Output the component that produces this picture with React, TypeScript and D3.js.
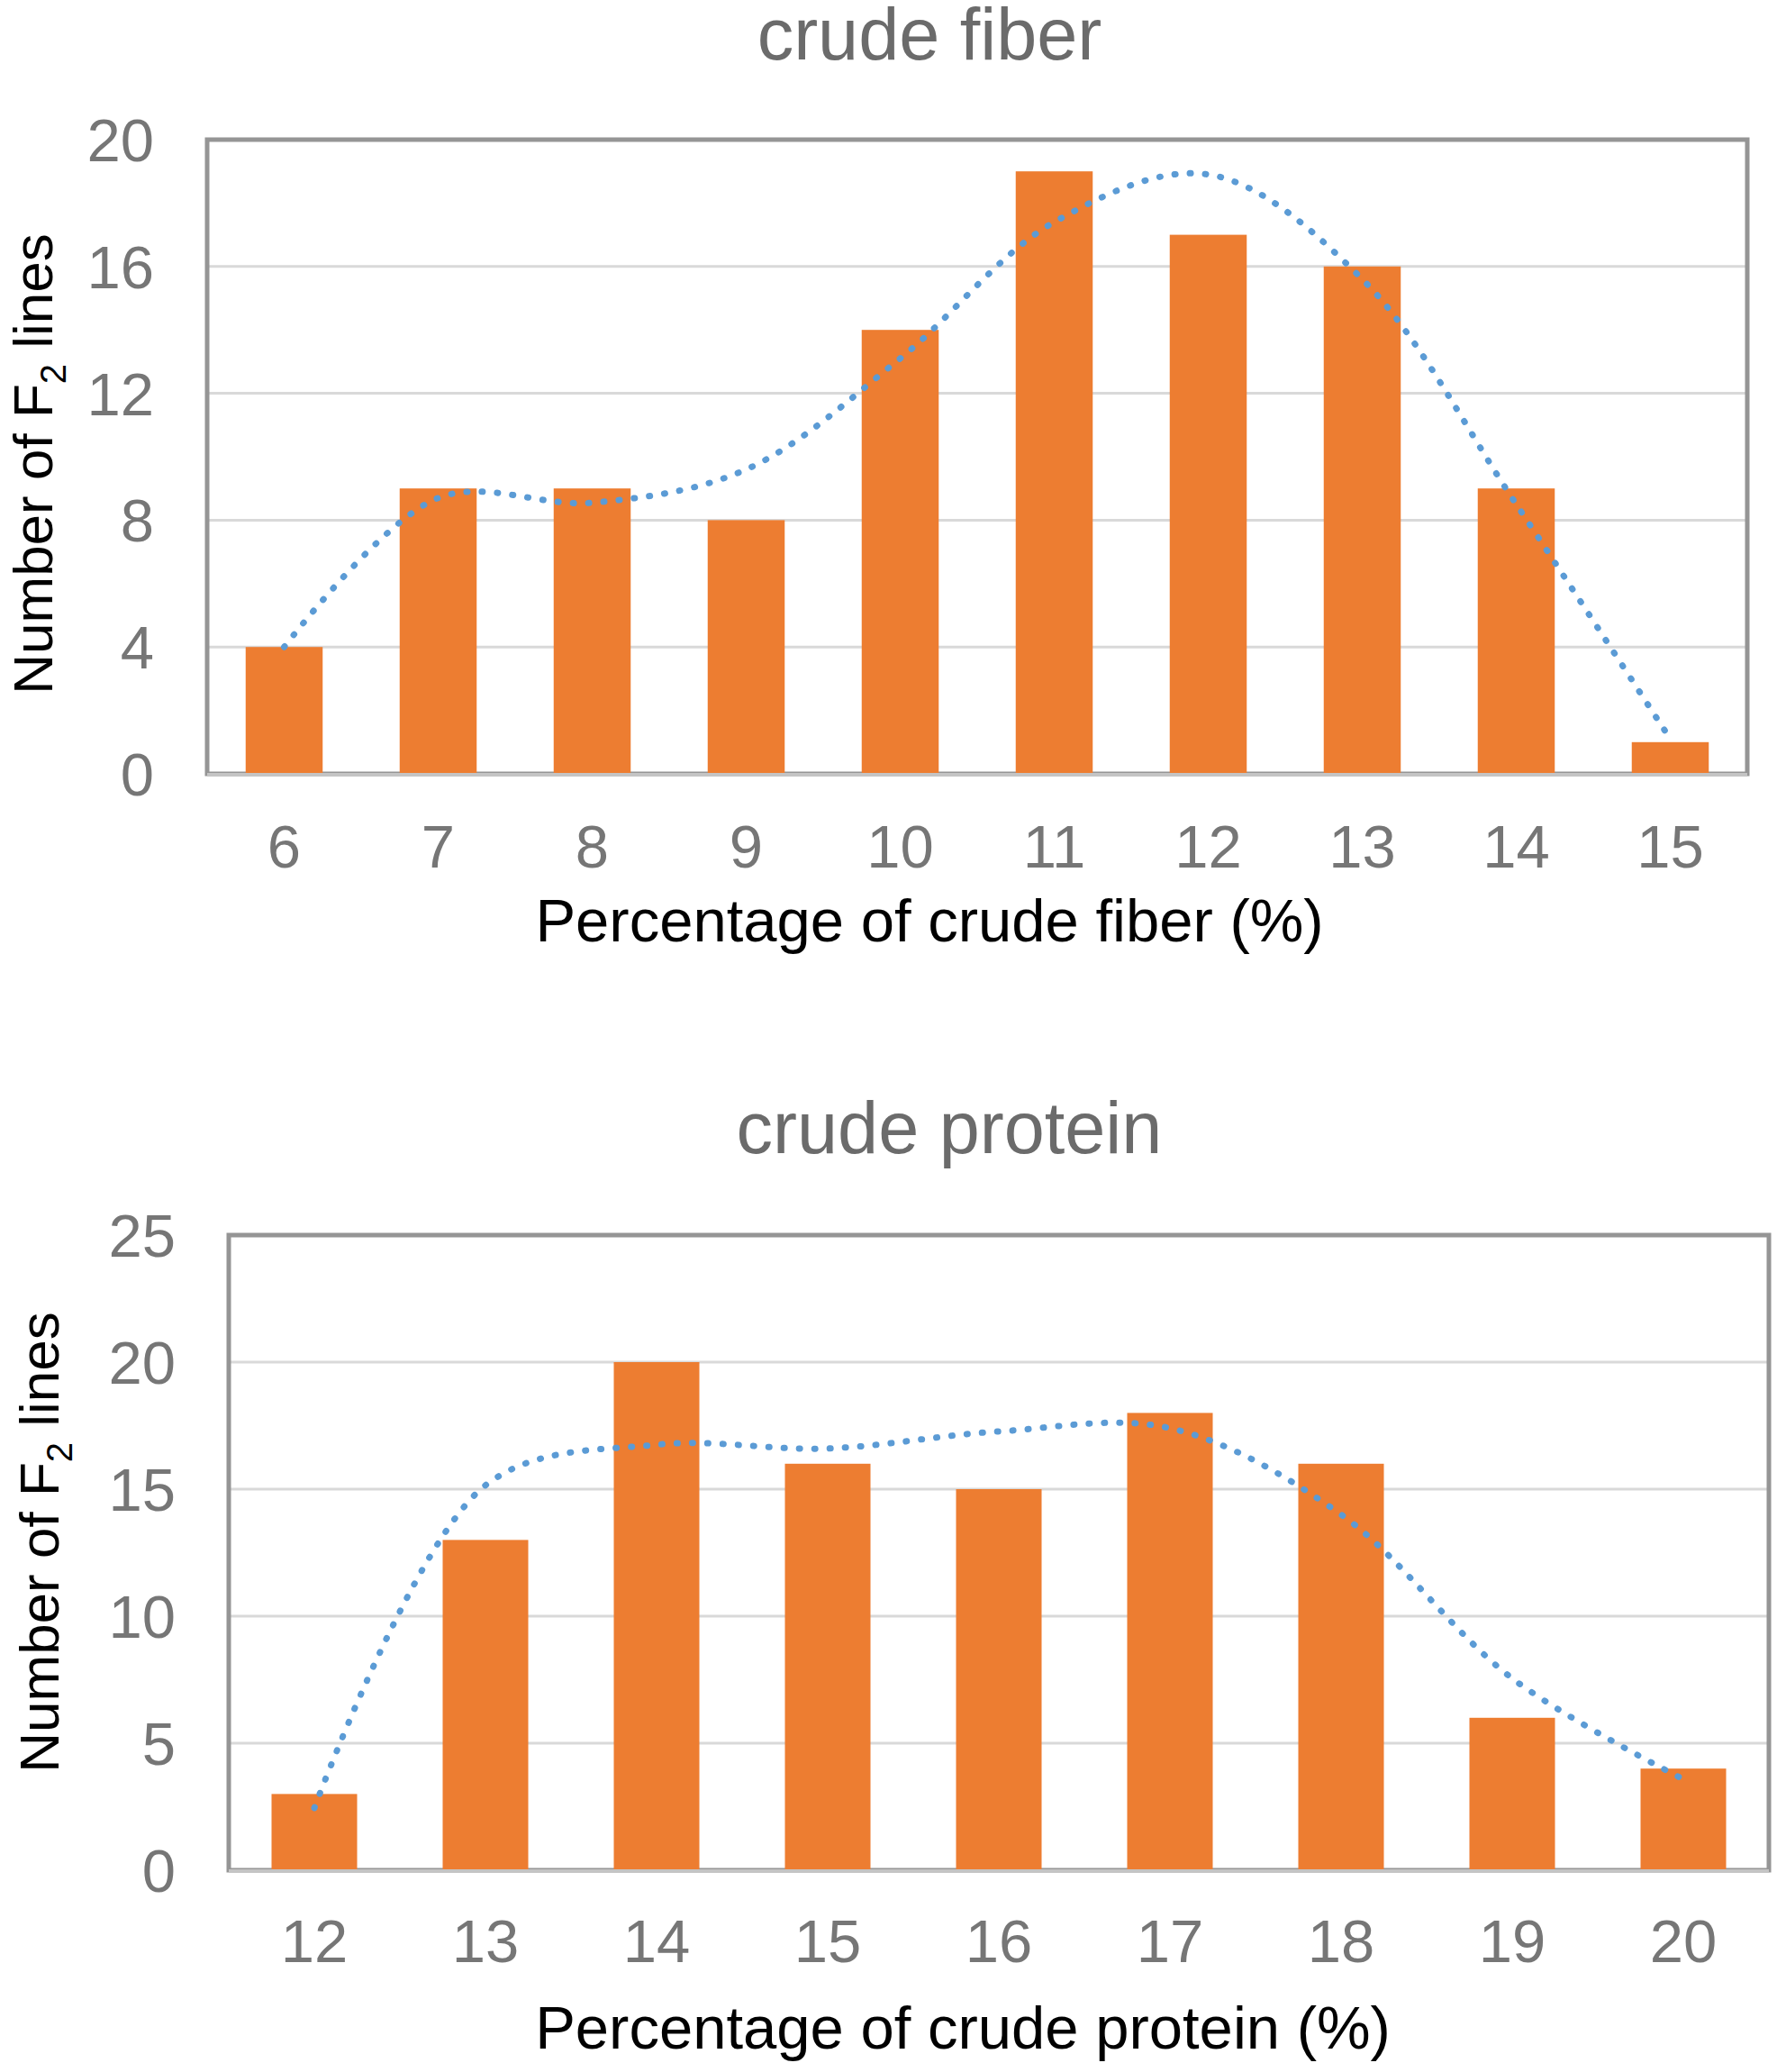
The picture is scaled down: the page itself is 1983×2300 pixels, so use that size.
import React from "react";
import * as d3 from "d3";

// ---------- data ----------
const fiberCategories = ["6", "7", "8", "9", "10", "11", "12", "13", "14", "15"];
const fiberCounts = [4, 9, 9, 8, 14, 19, 17, 16, 9, 1];
const fiberSmooth = [4.0, 8.7, 8.55, 9.6, 13.1, 17.4, 18.9, 15.6, 8.5, 1.1];
const fiberTicks = [0, 4, 8, 12, 16, 20];

const proteinCategories = ["12", "13", "14", "15", "16", "17", "18", "19", "20"];
const proteinCounts = [3, 13, 20, 16, 15, 18, 16, 6, 4];
const proteinSmooth = [2.45, 15.15, 16.75, 16.6, 17.27, 17.4, 14.0, 7.55, 3.58];
const proteinTicks = [0, 5, 10, 15, 20, 25];

const FONT = "'Liberation Sans', Arial, 'DejaVu Sans', sans-serif";
const BAR = "#ED7D31";
const LINE = "#5B9BD5";
const TICK_SIZE = 67;

type PanelProps = {
  title: string;
  xTitle: string;
  categories: string[];
  counts: number[];
  smooth: number[];
  ticks: number[];
  left: number;
  right: number;
  top: number;
  bottom: number;
  titleX: number;
  titleY: number;
  xTickY: number;
  xTitleX: number;
  xTitleY: number;
  yTickX: number;
  yTitleX: number;
  yTitleY: number;
};

function Panel(p: PanelProps) {
  const x = d3
    .scaleBand<string>()
    .domain(p.categories)
    .range([p.left, p.right])
    .paddingInner(0.5)
    .paddingOuter(0.25);
  const yMax = p.ticks[p.ticks.length - 1];
  const y = d3.scaleLinear().domain([0, yMax]).range([p.bottom, p.top]);
  const cx = (c: string) => (x(c) as number) + x.bandwidth() / 2;
  const line = d3
    .line<number>()
    .x((_, i) => cx(p.categories[i]))
    .y((v) => y(v))
    .curve(d3.curveCatmullRom.alpha(0.5));

  return (
    <g>
      <text
        x={p.titleX}
        y={p.titleY}
        textAnchor="middle"
        fontFamily={FONT}
        fontSize={81}
        fill="#6b6b6b"
      >
        {p.title}
      </text>
      {p.ticks.slice(1, -1).map((t) => (
        <line
          key={"g" + t}
          x1={p.left}
          x2={p.right}
          y1={y(t)}
          y2={y(t)}
          stroke="#d9d9d9"
          strokeWidth={3}
        />
      ))}
      <rect
        x={p.left}
        y={p.top}
        width={p.right - p.left}
        height={p.bottom - p.top}
        fill="none"
        stroke="#959595"
        strokeWidth={5}
      />
      {p.categories.map((c, i) => (
        <rect
          key={"b" + c}
          x={x(c)}
          y={y(p.counts[i])}
          width={x.bandwidth()}
          height={y(0) - y(p.counts[i])}
          fill={BAR}
        />
      ))}
      <line
        x1={p.left}
        x2={p.right}
        y1={p.bottom + 1}
        y2={p.bottom + 1}
        stroke="#c4c4c4"
        strokeWidth={4}
      />
      <path
        d={line(p.smooth) || ""}
        fill="none"
        stroke={LINE}
        strokeWidth={7}
        strokeLinecap="round"
        strokeDasharray="1 16"
      />
      {p.ticks.map((t) => (
        <text
          key={"yt" + t}
          x={p.yTickX}
          y={y(t) + 24}
          textAnchor="end"
          fontFamily={FONT}
          fontSize={TICK_SIZE}
          fill="#767676"
        >
          {t}
        </text>
      ))}
      {p.categories.map((c) => (
        <text
          key={"xt" + c}
          x={cx(c)}
          y={p.xTickY}
          textAnchor="middle"
          fontFamily={FONT}
          fontSize={TICK_SIZE}
          fill="#767676"
        >
          {c}
        </text>
      ))}
      <text
        x={p.xTitleX}
        y={p.xTitleY}
        textAnchor="middle"
        fontFamily={FONT}
        fontSize={67}
        fill="#000"
      >
        {p.xTitle}
      </text>
      <text
        transform={`translate(${p.yTitleX},${p.yTitleY}) rotate(-90)`}
        textAnchor="middle"
        fontFamily={FONT}
        fontSize={62}
        fill="#000"
      >
        Number of F
        <tspan fontSize={40} dy={15}>
          2
        </tspan>
        <tspan dy={-15}> lines</tspan>
      </text>
    </g>
  );
}

export default function App() {
  return (
    <svg
      width={1983}
      height={2300}
      viewBox="0 0 1983 2300"
      style={{ position: "absolute", left: 0, top: 0, background: "#fff" }}
    >
      <rect x={0} y={0} width={1983} height={2300} fill="#fff" />
      <Panel
        title="crude fiber"
        xTitle="Percentage of crude fiber (%)"
        categories={fiberCategories}
        counts={fiberCounts}
        smooth={fiberSmooth}
        ticks={fiberTicks}
        left={230}
        right={1940}
        top={155}
        bottom={859}
        titleX={1032}
        titleY={66}
        xTickY={963}
        xTitleX={1032}
        xTitleY={1045}
        yTickX={171}
        yTitleX={58}
        yTitleY={515}
      />
      <Panel
        title="crude protein"
        xTitle="Percentage of crude protein (%)"
        categories={proteinCategories}
        counts={proteinCounts}
        smooth={proteinSmooth}
        ticks={proteinTicks}
        left={254}
        right={1964}
        top={1371}
        bottom={2076}
        titleX={1054}
        titleY={1280}
        xTickY={2178}
        xTitleX={1069}
        xTitleY={2274}
        yTickX={195}
        yTitleX={65}
        yTitleY={1712}
      />
    </svg>
  );
}
